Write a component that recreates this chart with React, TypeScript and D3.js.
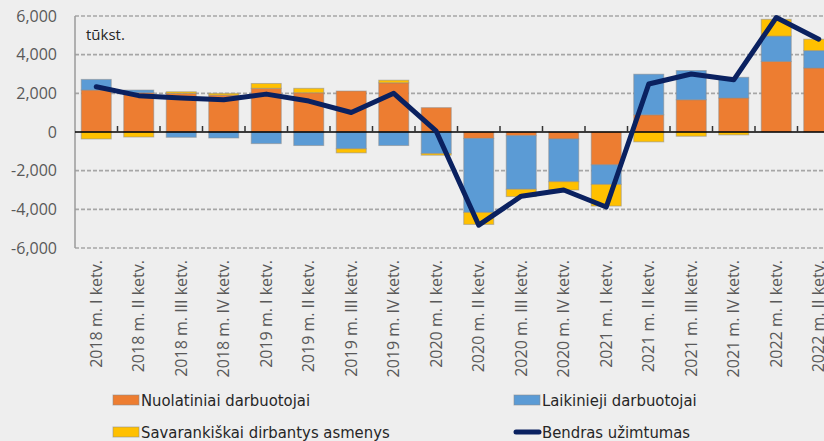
/**
 * Employment change by component, stacked bars + total line.
 * D3 via ref+useEffect, clear+redraw.
 */
import React, { useRef, useEffect } from 'react';
import * as d3 from 'd3';

const WIDTH = 824;
const HEIGHT = 441;

const categories = [
  '2018 m. I ketv.', '2018 m. II ketv.', '2018 m. III ketv.', '2018 m. IV ketv.',
  '2019 m. I ketv.', '2019 m. II ketv.', '2019 m. III ketv.', '2019 m. IV ketv.',
  '2020 m. I ketv.', '2020 m. II ketv.', '2020 m. III ketv.', '2020 m. IV ketv.',
  '2021 m. I ketv.', '2021 m. II ketv.', '2021 m. III ketv.', '2021 m. IV ketv.',
  '2022 m. I ketv.', '2022 m. II ketv.',
];

const permanent = [2170, 2030, 2000, 1910, 2260, 2030, 2120, 2545, 1260, -330, -190, -360, -1700, 890, 1670, 1760, 3650, 3310];
const temporary = [550, 140, -275, -310, -600, -700, -870, -700, -1115, -3830, -2770, -2210, -1010, 2100, 1510, 1070, 1310, 900];
const selfEmployed = [-360, -260, 80, 90, 250, 230, -210, 135, -85, -620, -380, -430, -1120, -510, -220, -150, 870, 590];
const total = [2340, 1880, 1760, 1670, 1960, 1600, 1010, 2000, 40, -4820, -3320, -3000, -3880, 2480, 3000, 2700, 5920, 4800];

const yTicks = [-6000, -4000, -2000, 0, 2000, 4000, 6000];

const seriesKeys = ['perm', 'temp', 'self'];
const seriesNames = ['Nuolatiniai darbuotojai', 'Laikinieji darbuotojai', 'Savarankiškai dirbantys asmenys'];
const seriesColors = ['#ED7D31', '#5B9BD5', '#FFC000'];
const lineName = 'Bendras užimtumas';
const lineColor = '#0A2160';

const AXIS_FONT = "'Open Sans', 'DejaVu Sans', sans-serif";
const LEGEND_FONT = "'DejaVu Sans Condensed', 'DejaVu Sans', sans-serif";

// Excel-style: plain hyphen for negatives
const fmtTick = (d: number) => (d < 0 ? '-' : '') + d3.format(',')(Math.abs(d));

export default function App() {
  const svgRef = useRef<SVGSVGElement>(null);

  useEffect(() => {
    if (!svgRef.current) return;
    const svg = d3.select(svgRef.current);
    svg.selectAll('*').remove();

    const left = 75;
    const step = 42.5;
    const x = d3
      .scaleBand<string>()
      .domain(categories)
      .range([left, left + step * categories.length])
      .paddingInner(0.294)
      .paddingOuter(0.147);

    const y = d3.scaleLinear().domain([-6000, 6000]).range([248, 16]);

    svg.append('rect').attr('width', WIDTH).attr('height', HEIGHT).attr('fill', '#EEEEEE');

    // gridlines (dashed), skipping zero
    svg
      .append('g')
      .selectAll('line')
      .data(yTicks.filter((t) => t !== 0))
      .join('line')
      .attr('x1', left)
      .attr('x2', WIDTH)
      .attr('y1', (d) => y(d))
      .attr('y2', (d) => y(d))
      .attr('stroke', '#A6A6A6')
      .attr('stroke-width', 1.6)
      .attr('stroke-dasharray', '4 2');

    // y axis line
    svg
      .append('line')
      .attr('x1', left)
      .attr('x2', left)
      .attr('y1', y(6000))
      .attr('y2', y(-6000))
      .attr('stroke', '#9A9A9A')
      .attr('stroke-width', 1.5);

    // y labels
    svg
      .append('g')
      .selectAll('text')
      .data(yTicks)
      .join('text')
      .attr('x', 57)
      .attr('y', (d) => y(d))
      .attr('dy', '0.35em')
      .attr('text-anchor', 'end')
      .attr('fill', '#595959')
      .attr('font-size', '16px')
      .attr('font-family', AXIS_FONT)
      .text(fmtTick);

    // stacked bars
    const rows = categories.map((c, i) => ({
      cat: c,
      perm: permanent[i],
      temp: temporary[i],
      self: selfEmployed[i],
    }));
    const stacked = d3.stack<any>().keys(seriesKeys).offset(d3.stackOffsetDiverging)(rows);

    stacked.forEach((layer, si) => {
      svg
        .append('g')
        .selectAll('rect')
        .data(layer)
        .join('rect')
        .attr('x', (d) => x(d.data.cat) ?? 0)
        .attr('width', x.bandwidth())
        .attr('y', (d) => y(Math.max(d[0], d[1])))
        .attr('height', (d) => Math.abs(y(d[0]) - y(d[1])))
        .attr('fill', seriesColors[si])
        .attr('stroke', 'rgba(140,140,140,0.55)')
        .attr('stroke-width', 1);
    });

    // zero axis + category ticks
    svg
      .append('line')
      .attr('x1', left)
      .attr('x2', WIDTH)
      .attr('y1', y(0))
      .attr('y2', y(0))
      .attr('stroke', '#000')
      .attr('stroke-width', 1.5);

    svg
      .append('g')
      .selectAll('line')
      .data(categories.slice(1))
      .join('line')
      .attr('x1', (_, i) => left + step * (i + 1))
      .attr('x2', (_, i) => left + step * (i + 1))
      .attr('y1', y(0))
      .attr('y2', y(0) - 6)
      .attr('stroke', '#333')
      .attr('stroke-width', 1.5);

    // total line
    const cx = (c: string) => (x(c) ?? 0) + x.bandwidth() / 2;
    const line = d3
      .line<number>()
      .x((_, i) => cx(categories[i]))
      .y((d) => y(d));
    svg
      .append('path')
      .attr('d', line(total) ?? '')
      .attr('fill', 'none')
      .attr('stroke', lineColor)
      .attr('stroke-width', 5)
      .attr('stroke-linejoin', 'round')
      .attr('stroke-linecap', 'round');

    // x labels, rotated
    svg
      .append('g')
      .selectAll('text')
      .data(categories)
      .join('text')
      .attr('transform', (d) => `translate(${cx(d)}, 260) rotate(-90)`)
      .attr('dy', '0.35em')
      .attr('text-anchor', 'end')
      .attr('fill', '#595959')
      .attr('font-size', '16px')
      .attr('font-family', AXIS_FONT)
      .text((d) => d);

    // unit label
    svg
      .append('text')
      .attr('x', 86)
      .attr('y', 40)
      .attr('fill', '#262626')
      .attr('font-size', '15px')
      .attr('font-family', AXIS_FONT)
      .text('tūkst.');

    // legend
    const legendItems = [
      { name: seriesNames[0], color: seriesColors[0], kind: 'rect', x: 113, y: 400 },
      { name: seriesNames[1], color: seriesColors[1], kind: 'rect', x: 514, y: 400 },
      { name: seriesNames[2], color: seriesColors[2], kind: 'rect', x: 113, y: 432 },
      { name: lineName, color: lineColor, kind: 'line', x: 514, y: 432 },
    ];
    const lg = svg.append('g');
    legendItems.forEach((it) => {
      if (it.kind === 'rect') {
        lg.append('rect')
          .attr('x', it.x)
          .attr('y', it.y - 5)
          .attr('width', 26)
          .attr('height', 10)
          .attr('fill', it.color)
          .attr('stroke', 'rgba(140,140,140,0.55)');
      } else {
        lg.append('line')
          .attr('x1', it.x + 2)
          .attr('x2', it.x + 25)
          .attr('y1', it.y)
          .attr('y2', it.y)
          .attr('stroke', it.color)
          .attr('stroke-width', 5)
          .attr('stroke-linecap', 'round');
      }
      lg.append('text')
        .attr('x', it.x + 28)
        .attr('y', it.y)
        .attr('dy', '0.35em')
        .attr('fill', '#262626')
        .attr('font-size', '16.5px')
        .attr('font-stretch', 'condensed')
        .attr('font-family', LEGEND_FONT)
        .text(it.name);
    });
  }, []);

  return (
    <svg
      ref={svgRef}
      width={WIDTH}
      height={HEIGHT}
      style={{ position: 'absolute', left: 0, top: 0, display: 'block' }}
    />
  );
}
